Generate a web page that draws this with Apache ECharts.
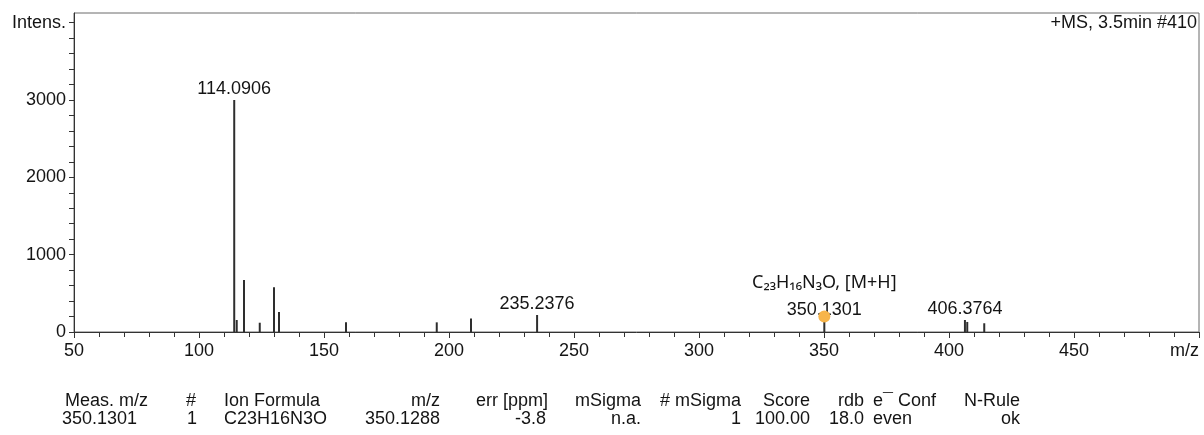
<!DOCTYPE html>
<html>
<head>
<meta charset="utf-8">
<script src="https://cdn.jsdelivr.net/npm/echarts@6/dist/echarts.min.js"></script>
<style>
  html, body { margin: 0; padding: 0; background: #ffffff; }
  #chart { width: 1204px; height: 435px; }
</style>
</head>
<body>
<div id="chart"></div>
<script>
// Centroid peaks of the spectrum: m/z and intensity
const peakMz        = [114.0906, 115.09, 118.0, 124.3, 130.0, 132.0, 158.8, 195.1, 208.8, 235.2376, 350.1301, 406.3764, 407.3, 414.1];
const peakIntensity = [3000,     155,    673,   120,   578,   259,   125,   125,   175,   220,      140,      155,      130,   113];

// Peaks annotated with their m/z
const labeledMz = [114.0906, 235.2376, 350.1301, 406.3764];

// Assigned ion marker
const ionMz = 350.1301;
const ionIntensity = 200;
const ionLabel = 'C₂₃H₁₆N₃O, [M+H]';

// Axis texts
const spectrumTitle = '+MS, 3.5min #410';
const yTopLabel = 'Intens.';
const xEndLabel = 'm/z';

// Formula result table
const tableHeaders = ['Meas. m/z', '#', 'Ion Formula', 'm/z', 'err [ppm]', 'mSigma', '# mSigma', 'Score', 'rdb', 'e¯ Conf', 'N-Rule'];
const tableRow     = ['350.1301', '1', 'C23H16N3O', '350.1288', '-3.8', 'n.a.', '1', '100.00', '18.0', 'even', 'ok'];

// Column anchors for the table: [header x, header align, value x, value align]
const tableColumns = [
  [65, 'left', 137, 'right'],
  [191, 'center', 192, 'center'],
  [224, 'left', 224, 'left'],
  [440, 'right', 440, 'right'],
  [548, 'right', 546, 'right'],
  [641, 'right', 641, 'right'],
  [741, 'right', 741, 'right'],
  [810, 'right', 810, 'right'],
  [864, 'right', 864, 'right'],
  [873, 'left', 873, 'left'],
  [1020, 'right', 1020, 'right']
];

const FONT = "'Liberation Sans', Arial, sans-serif";
const TEXT = '#141414';

const peakData = peakMz.map((m, i) => [m, peakIntensity[i]]);
const labelData = labeledMz.map(m => [m, peakIntensity[peakMz.indexOf(m)]]);

const tableGraphics = [];
tableColumns.forEach((c, i) => {
  tableGraphics.push({
    type: 'text', x: c[0], y: 401,
    style: { text: tableHeaders[i], fontSize: 18, fontFamily: FONT, fill: TEXT, align: c[1], verticalAlign: 'middle' }
  });
  tableGraphics.push({
    type: 'text', x: c[2], y: 419,
    style: { text: tableRow[i], fontSize: 18, fontFamily: FONT, fill: TEXT, align: c[3], verticalAlign: 'middle' }
  });
});

const chart = echarts.init(document.getElementById('chart'), null, { renderer: 'canvas' });

chart.setOption({
  animation: false,
  backgroundColor: '#ffffff',
  grid: {
    left: 74, right: 5, top: 13, bottom: 103,
    show: true, borderColor: '#6a6a6a', borderWidth: 1,
    outerBoundsMode: 'none'
  },
  xAxis: {
    type: 'value', min: 50, max: 500, interval: 50,
    axisLine: { show: true, onZero: false, lineStyle: { color: '#333', width: 1 } },
    axisTick: { show: true, inside: false, length: 6, lineStyle: { color: '#333' } },
    minorTick: { show: true, splitNumber: 5, length: 5, lineStyle: { color: '#333' } },
    splitLine: { show: false },
    axisLabel: {
      fontSize: 18, fontFamily: FONT, color: TEXT, margin: 10,
      alignMaxLabel: 'right',
      formatter: v => (v === 500 ? xEndLabel : String(v))
    }
  },
  yAxis: {
    type: 'value', min: 0, max: 4125, interval: 200,
    axisLine: { show: true, onZero: false, lineStyle: { color: '#333', width: 1 } },
    axisTick: { show: true, length: 5, lineStyle: { color: '#333' } },
    splitLine: { show: false },
    axisLabel: {
      fontSize: 18, fontFamily: FONT, color: TEXT, margin: 8,
      showMaxLabel: false,
      formatter: v => {
        if (v === 4000) return yTopLabel;
        return v % 1000 === 0 ? String(v) : '';
      }
    }
  },
  series: [
    {
      type: 'custom',
      name: 'peaks',
      z: 2,
      data: peakData,
      encode: { x: 0, y: 1 },
      renderItem: (params, api) => {
        const base = api.coord([api.value(0), 0]);
        const top = api.coord([api.value(0), api.value(1)]);
        return {
          type: 'line',
          shape: { x1: base[0], y1: base[1], x2: top[0], y2: top[1] },
          style: { stroke: '#2e2e2e', lineWidth: 2 }
        };
      }
    },
    {
      type: 'scatter',
      name: 'peak labels',
      z: 3,
      symbolSize: 0,
      itemStyle: { opacity: 1 },
      data: labelData,
      label: {
        show: true, position: 'top', distance: 2,
        fontSize: 18, fontFamily: FONT, color: TEXT,
        formatter: p => p.value[0].toFixed(4)
      }
    },
    {
      type: 'scatter',
      name: 'ion',
      z: 6,
      symbol: 'circle',
      symbolSize: 12,
      itemStyle: { color: '#f7b54b', opacity: 1 },
      data: [[ionMz, ionIntensity]],
      label: {
        show: true, position: 'top', distance: 19,
        fontSize: 18, fontFamily: "'Noto Sans', 'DejaVu Sans', sans-serif", color: TEXT,
        formatter: () => ionLabel
      }
    }
  ],
  graphic: [
    {
      type: 'text', x: 1197, y: 23,
      style: { text: spectrumTitle, fontSize: 18, fontFamily: FONT, fill: TEXT, align: 'right', verticalAlign: 'middle' }
    }
  ].concat(tableGraphics)
});
</script>
</body>
</html>
